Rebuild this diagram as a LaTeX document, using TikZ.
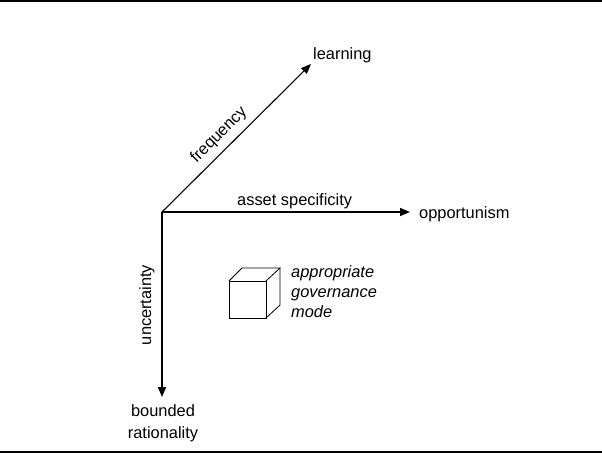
\documentclass[tikz,border=0pt]{standalone}
\usepackage{fontspec}
\setmainfont{Liberation Sans}
\usetikzlibrary{arrows.meta}
\begin{document}
\begin{tikzpicture}[x=1pt,y=-1pt,
  axis/.style={line width=1.5pt,-{Triangle[length=10pt,width=8pt]}},
  diag/.style={line width=1.1pt,-{Triangle[length=10pt,width=8pt]}},
  lbl/.style={font=\fontsize{16.4}{20}\selectfont,inner sep=0pt},
  itlbl/.style={lbl,anchor=base west,font=\fontsize{16.4}{20}\selectfont\itshape},
  rulebar/.style={line width=1.5pt},
  cube/.style={line width=0.8pt,line join=miter}]
\useasboundingbox (0,0) rectangle (602,453);
% top and bottom rules
\coordinate (tl) at (0,0.8); \coordinate (tr) at (602,0.8);
\coordinate (bl) at (0,452.2); \coordinate (br) at (602,452.2);
\draw[rulebar] (tl) -- (tr);
\draw[rulebar] (bl) -- (br);
% axes
\coordinate (O) at (162,212);
\coordinate (Ltip) at (311,64);
\coordinate (Htip) at (410,212);
\coordinate (Vtip) at (162,397);
\draw[diag] (O) -- (Ltip);
\draw[axis] (O) -- (Htip);
\draw[axis] (O) -- (Vtip);
% end labels
\node[lbl,anchor=base west] (learning) at (313,59) {learning};
\node[lbl,anchor=base west] (opp) at (419,218) {opportunism};
\node[lbl,anchor=base] (bounded) at (163,416) {bounded};
\node[lbl,anchor=base] (rational) at (163,438) {rationality};
% axis labels
\node[lbl,anchor=base west] (asset) at (237,205) {asset specificity};
\node[lbl,rotate=45] (freq) at (219,135) {frequency};
\node[lbl,rotate=90] (unc) at (147,305) {uncertainty};
% cube
\coordinate (f1) at (229,281); \coordinate (f2) at (266,281);
\coordinate (f3) at (266,318); \coordinate (f4) at (229,318);
\coordinate (b1) at (242,268); \coordinate (b2) at (280,268);
\coordinate (b3) at (280,305);
\draw[cube] (f1) -- (f2) -- (f3) -- (f4) -- cycle;
\draw[cube] (f1) -- (b1) -- (b2) -- (f2);
\draw[cube] (b2) -- (b3) -- (f3);
% governance mode text
\node[itlbl] (gov1) at (291,277) {appropriate};
\node[itlbl] (gov2) at (291,297) {governance};
\node[itlbl] (gov3) at (291,317) {mode};
\end{tikzpicture}
\end{document}
